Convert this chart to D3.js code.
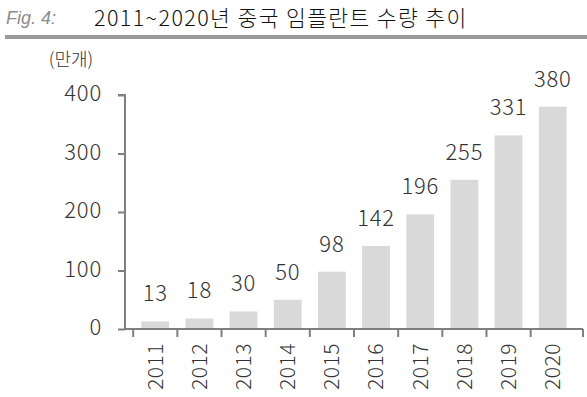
<!DOCTYPE html>
<html>
<head>
<meta charset="utf-8">
<script src="https://cdn.jsdelivr.net/npm/d3@7"></script>
<style>
  body { margin: 0; background: #fff; }
  text { font-family: "Noto Sans CJK KR", "Noto Sans", sans-serif; font-weight: 300; }
</style>
</head>
<body>
<div id="container"></div>
<script>
const years = ['2011', '2012', '2013', '2014', '2015', '2016', '2017', '2018', '2019', '2020'];
const volumes = [13, 18, 30, 50, 98, 142, 196, 255, 331, 380];
const yTicks = [0, 100, 200, 300, 400];

const W = 587, H = 397;
const margin = { top: 95, right: 4, bottom: 68, left: 125 };
const width = W - margin.left - margin.right;
const height = H - margin.top - margin.bottom;

const root = d3.select('#container')
  .append('svg')
  .attr('width', W)
  .attr('height', H);

// Title
root.append('text')
  .attr('x', 6).attr('y', 24)
  .attr('font-size', 18)
  .attr('font-style', 'italic')
  .attr('fill', '#8c8c8c')
  .style('font-family', 'Arial, "Liberation Sans", sans-serif')
  .style('font-weight', 400)
  .text('Fig. 4:');

root.append('text')
  .attr('x', 94).attr('y', 25.5)
  .attr('font-size', 21.5)
  .attr('letter-spacing', 1.4)
  .attr('fill', '#111')
  .text('2011~2020년 중국 임플란트 수량 추이');

root.append('rect')
  .attr('x', 5).attr('y', 35)
  .attr('width', W - 5).attr('height', 4)
  .attr('fill', '#9a9a9a');

root.append('text')
  .attr('x', 71).attr('y', 66)
  .attr('text-anchor', 'middle')
  .attr('font-size', 18)
  .attr('fill', '#333')
  .text('(만개)');

const svg = root.append('g')
  .attr('transform', `translate(${margin.left}, ${margin.top})`);

// Scales
const x = d3.scaleBand()
  .domain(years)
  .range([0, width])
  .padding(0.37);

const y = d3.scaleLinear()
  .domain([0, 400])
  .range([height, 0]);

// Bars
svg.selectAll('.bar')
  .data(years)
  .enter()
  .append('rect')
  .attr('class', 'bar')
  .attr('x', d => x(d))
  .attr('y', (d, i) => y(volumes[i]))
  .attr('width', x.bandwidth())
  .attr('height', (d, i) => height - y(volumes[i]))
  .attr('fill', '#d9d9d9');

// Value labels
svg.selectAll('.val')
  .data(years)
  .enter()
  .append('text')
  .attr('class', 'val')
  .attr('x', d => x(d) + x.bandwidth() / 2)
  .attr('y', (d, i) => y(volumes[i]) - 20)
  .attr('text-anchor', 'middle')
  .attr('font-size', 22)
  .attr('letter-spacing', 0.8)
  .attr('fill', '#333')
  .text((d, i) => volumes[i]);

// Y axis
const yAxis = d3.axisLeft(y).tickValues(yTicks).tickSize(7).tickPadding(16);
const gy = svg.append('g').call(yAxis);
gy.select('.domain').attr('stroke', '#7f7f7f').attr('stroke-width', 2).attr('d', `M-7,0H0V${height}`);
gy.selectAll('.tick line').attr('stroke', '#7f7f7f').attr('stroke-width', 2);
gy.selectAll('.tick text')
  .attr('font-size', 22)
  .attr('letter-spacing', 0.8)
  .attr('fill', '#333')
  .attr('dy', '0.25em')
  .style('font-family', '"Noto Sans CJK KR", "Noto Sans", sans-serif');

// X axis
const gap = (x.step() - x.bandwidth()) / 2;
const bounds = years.map(d => x(d) - gap).concat([width]);
const gx = svg.append('g').attr('transform', `translate(0, ${height})`);
gx.append('line')
  .attr('x1', 0).attr('x2', width)
  .attr('stroke', '#7f7f7f').attr('stroke-width', 2);
gx.selectAll('.btick')
  .data(bounds)
  .enter()
  .append('line')
  .attr('x1', d => d).attr('x2', d => d)
  .attr('y1', 0).attr('y2', 8)
  .attr('stroke', '#7f7f7f').attr('stroke-width', 2);
gx.selectAll('.year')
  .data(years)
  .enter()
  .append('text')
  .attr('transform', d => `translate(${x(d) + x.bandwidth() / 2}, 14) rotate(-90)`)
  .attr('text-anchor', 'end')
  .attr('dy', '0.35em')
  .attr('font-size', 21)
  .attr('letter-spacing', 0.5)
  .attr('fill', '#333')
  .text(d => d);
</script>
</body>
</html>
